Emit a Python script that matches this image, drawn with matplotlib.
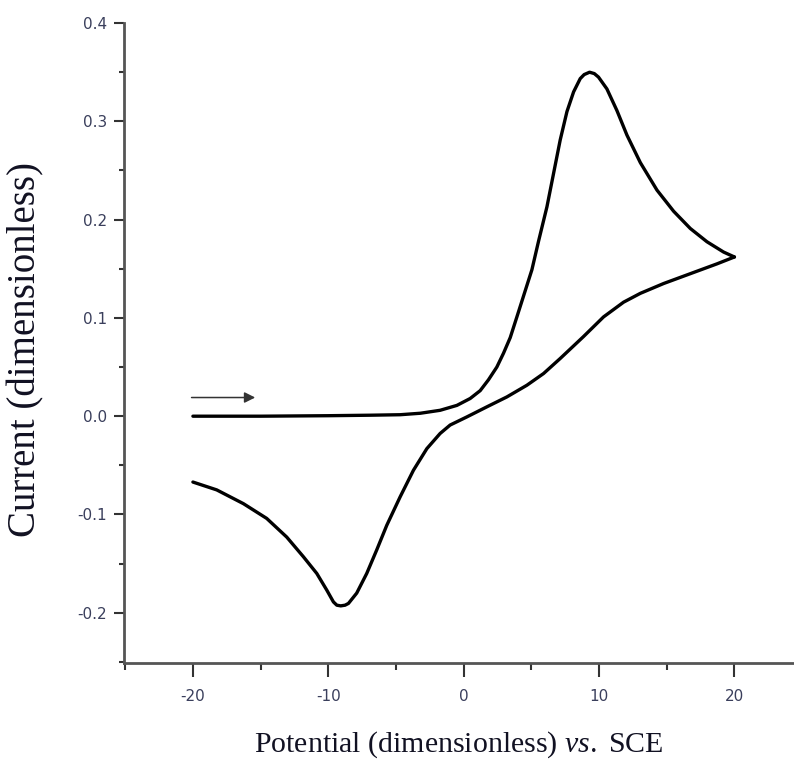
import matplotlib
matplotlib.use("Agg")
import matplotlib.pyplot as plt
from matplotlib.ticker import MultipleLocator

plt.rcParams['axes.unicode_minus'] = False
plt.rcParams['mathtext.fontset'] = 'custom'
plt.rcParams['mathtext.rm'] = 'Liberation Serif'
plt.rcParams['mathtext.it'] = 'Liberation Serif:italic'

# forward sweep, -20 -> +20
fwd_x = [-20.0, -15.0, -10.0, -6.9, -4.69, -3.2, -1.74, -0.5, 0.48, 1.22,
         1.83, 2.45, 2.94, 3.44, 3.93, 4.30, 4.67, 5.04, 5.53, 6.15, 6.64,
         7.13, 7.63, 8.12, 8.61, 8.9, 9.3, 9.65, 9.96, 10.58, 11.32, 12.06,
         13.05, 14.28, 15.51, 16.74, 17.97, 19.2, 20.0]
fwd_y = [0.0, 0.0, 0.0005, 0.001, 0.0015, 0.003, 0.006, 0.011, 0.018, 0.026,
         0.037, 0.050, 0.064, 0.080, 0.101, 0.117, 0.133, 0.149, 0.178,
         0.213, 0.247, 0.281, 0.310, 0.330, 0.3435, 0.3476, 0.350, 0.3486,
         0.345, 0.333, 0.311, 0.286, 0.258, 0.230, 0.2085, 0.191, 0.1775,
         0.167, 0.162]

# reverse sweep, +20 -> -20
rev_x = [20.0, 18.71, 16.74, 14.77, 13.05, 11.81, 10.33, 8.85, 7.13, 5.9,
         4.67, 3.19, 1.71, 0.24, -1.0, -1.74, -2.72, -3.71, -4.69, -5.68,
         -6.42, -7.16, -7.9, -8.51, -8.76, -9.08, -9.37, -9.62, -10.11,
         -10.85, -11.84, -13.07, -14.55, -16.27, -18.24, -20.0]
rev_y = [0.162, 0.155, 0.145, 0.135, 0.125, 0.116, 0.101, 0.081, 0.0587,
         0.0434, 0.0315, 0.0196, 0.0095, -0.0007, -0.009, -0.0176, -0.033,
         -0.055, -0.082, -0.111, -0.136, -0.160, -0.180, -0.1905, -0.1923,
         -0.193, -0.1923, -0.189, -0.177, -0.160, -0.143, -0.123, -0.104,
         -0.089, -0.075, -0.067]

# scan direction arrow
arrow_start = (-20.1, 0.019)
arrow_end = (-15.4, 0.019)

x_ticks = [-20, -10, 0, 10, 20]
y_ticks = [-0.2, -0.1, 0.0, 0.1, 0.2, 0.3, 0.4]

fig = plt.figure(figsize=(7.94, 7.69), dpi=100)
ax = fig.add_axes([0.156, 0.138, 0.844, 0.832])

ax.plot(fwd_x, fwd_y, color='black', lw=2.4, solid_joinstyle='round',
        solid_capstyle='round')
ax.plot(rev_x, rev_y, color='black', lw=2.4, solid_joinstyle='round',
        solid_capstyle='round')
ax.annotate('', xy=arrow_end, xytext=arrow_start,
            arrowprops=dict(arrowstyle='-|>', color='#333333', lw=1.1,
                            mutation_scale=16, shrinkA=0, shrinkB=0))

ax.set_xlim(-25.1, 24.4)
ax.set_ylim(-0.251, 0.4)
ax.set_xticks(x_ticks)
ax.set_yticks(y_ticks)
ax.set_xticklabels([str(t) for t in x_ticks])
ax.set_yticklabels(['%.1f' % t for t in y_ticks])
ax.xaxis.set_minor_locator(MultipleLocator(5))
ax.yaxis.set_minor_locator(MultipleLocator(0.05))

for side in ['top', 'right']:
    ax.spines[side].set_visible(False)
for side in ['left', 'bottom']:
    ax.spines[side].set_color('#555555')
    ax.spines[side].set_linewidth(2)

ax.tick_params(axis='x', which='major', direction='out', length=10, width=1.5,
               color='#333333', pad=9, labelsize=11, labelcolor='#3a3f5c')
ax.tick_params(axis='x', which='minor', direction='out', length=5, width=1.5,
               color='#333333')
ax.tick_params(axis='y', which='major', direction='out', length=7, width=1.5,
               color='#333333', pad=5, labelsize=11, labelcolor='#3a3f5c')
ax.tick_params(axis='y', which='minor', direction='out', length=3.5, width=1.5,
               color='#333333')

ax.set_xlabel(r'Potential (dimensionless) $\mathit{vs.}\ \mathrm{SCE}$',
              family='Liberation Serif', fontsize=21.5, color='#111122',
              labelpad=18)
ax.set_ylabel('Current (dimensionless)', family='Liberation Serif',
              fontsize=28, color='#111122')
ax.yaxis.set_label_coords(-0.119, 0.49)

fig.savefig('out.png', dpi=100)
